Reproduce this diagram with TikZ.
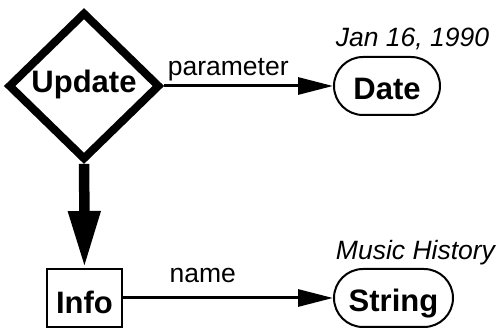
\documentclass[tikz,border=0pt]{standalone}
\usepackage{fontspec}
\setmainfont{Liberation Sans}
\usetikzlibrary{arrows.meta,shapes.geometric}
\tikzset{
    >={Triangle[length=35pt,width=17pt]},
    odm/.style={
        method/.append style={align=center,draw,line width=8pt,diamond,minimum width=152pt,minimum height=148pt,inner sep=0pt,text height=20pt,text depth=6pt,font=\bfseries\fontsize{31}{36}\selectfont},
        cls/.append style={align=center,draw,line width=2pt,rectangle,minimum width=75pt,minimum height=58pt,inner sep=0pt,text height=32pt,text depth=0pt,font=\bfseries\fontsize{31}{36}\selectfont},
        prim/.append style={align=center,draw,line width=2pt,rectangle,rounded corners=29pt,minimum height=58pt,inner sep=0pt,text height=28pt,text depth=0pt,font=\bfseries\fontsize{31}{36}\selectfont},
        role/.append style={anchor=base,font=\fontsize{26.5}{32}\selectfont},
        sample/.append style={anchor=base,font=\itshape\fontsize{26.5}{32}\selectfont},
        part/.append style={line width=10.5pt,arrows={Triangle[length=57pt,width=30pt]-}},
        every edge/.append style={draw,line width=3pt}
    }
}

\begin{document}
\begin{tikzpicture}[odm,x=1pt,y=1pt]
    \useasboundingbox (0,0) rectangle (498,331);

    \node[method] (upd) at (84,245) {Update};

    \node[prim,minimum width=106pt] (date) at (387,245) {Date}
        edge[<-] node[role,pos=.62,yshift=10pt] {parameter} (upd);
    \node[sample] (dval) at (412.5,284) {Jan 16, 1990};

    \node[cls] (info) at (84.5,33) {Info} edge[part] (upd);

    \node[prim,minimum width=119pt] (str) at (393.5,33) {String}
        edge[<-] node[role,pos=.62,yshift=15pt] {name} (info);
    \node[sample] (sval) at (415.5,71) {Music History};
\end{tikzpicture}
\end{document}
